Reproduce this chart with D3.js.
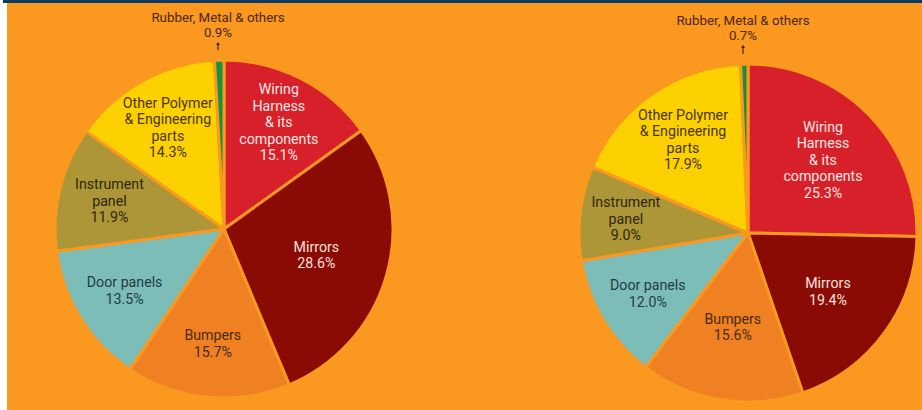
<!DOCTYPE html>
<html>
<head>
<meta charset="utf-8">
<script src="https://cdn.jsdelivr.net/npm/d3@7"></script>
<style>
  html, body { margin: 0; padding: 0; background: #ffffff; }
  svg { display: block; }
  text { font-family: Roboto, "Open Sans", sans-serif; }
</style>
</head>
<body>
<svg id="chart" width="922" height="410"></svg>
<script>
// ---------- data ----------
const categories = [
  "Wiring Harness & its components",
  "Mirrors",
  "Bumpers",
  "Door panels",
  "Instrument panel",
  "Other Polymer & Engineering parts",
  "Rubber, Metal & others"
];
const labelLines = [
  ["Wiring", "Harness", "& its", "components"],
  ["Mirrors"],
  ["Bumpers"],
  ["Door panels"],
  ["Instrument", "panel"],
  ["Other Polymer", "& Engineering", "parts"],
  ["Rubber, Metal & others"]
];
const valuesLeft  = [15.1, 28.6, 15.7, 13.5, 11.9, 14.3, 0.9];
const valuesRight = [25.3, 19.4, 15.6, 12.0, 9.0, 17.9, 0.7];

// ---------- styles / layout ----------
const sliceColors = ["#d7202a", "#8a0b04", "#ef8122", "#7dbdb8", "#ad9637", "#fdd100", "#16923e"];
const textColors  = ["#fbe6e2", "#f6e0dc", "#4a2a0c", "#1f3b48", "#2e2606", "#4a3606", "#4a2608"];
const bg = "#fb981f";

const pies = [
  { values: valuesLeft,  cx: 224, cy: 229, r: 169, labelR: [120, 96, 115, 117, 118, 116],
    topLabelX: 218, topLabelY: 17, arrowY: [42, 50] },
  { values: valuesRight, cx: 748, cy: 233, r: 169, labelR: [105, 99, 95, 117, 123, 114],
    topLabelX: 743, topLabelY: 20, arrowY: [45, 54] }
];

const svg = d3.select("#chart");

// background
svg.append("rect").attr("x", 0).attr("y", 0).attr("width", 922).attr("height", 410).attr("fill", "#ffffff");
svg.append("rect").attr("x", 7).attr("y", 0).attr("width", 915).attr("height", 410).attr("fill", bg);
svg.append("rect").attr("x", 3).attr("y", 0).attr("width", 919).attr("height", 3).attr("fill", "#0f3a5f");

const pieGen = d3.pie().sort(null).value(d => d);
const lineH = 16.5;

pies.forEach(p => {
  const arcs = pieGen(p.values);
  const arc = d3.arc().innerRadius(0).outerRadius(p.r);
  const g = svg.append("g").attr("transform", `translate(${p.cx},${p.cy})`);

  g.selectAll("path.slice")
    .data(arcs)
    .join("path")
    .attr("class", "slice")
    .attr("d", arc)
    .attr("fill", (d, i) => sliceColors[i])
    .attr("stroke", bg)
    .attr("stroke-width", 3)
    .attr("stroke-linejoin", "round");

  // inner labels (all slices except the tiny last one)
  arcs.slice(0, 6).forEach((d, i) => {
    const mid = (d.startAngle + d.endAngle) / 2;
    const lr = p.labelR[i];
    const x = Math.sin(mid) * lr;
    const y = -Math.cos(mid) * lr;
    const lines = labelLines[i].concat([d3.format(".1f")(p.values[i]) + "%"]);
    const t = g.append("text")
      .attr("text-anchor", "middle")
      .attr("fill", textColors[i])
      .attr("font-size", 14.2)
      .attr("font-weight", 400);
    lines.forEach((ln, k) => {
      t.append("tspan")
        .attr("x", x)
        .attr("y", y + (k - (lines.length - 1) / 2) * lineH)
        .attr("dy", "0.35em")
        .text(ln);
    });
  });

  // top outside label for the small slice
  const tl = svg.append("text")
    .attr("text-anchor", "middle")
    .attr("fill", textColors[6])
    .attr("font-size", 13.3)
    .attr("font-weight", 400);
  [labelLines[6][0], d3.format(".1f")(p.values[6]) + "%"].forEach((ln, k) => {
    tl.append("tspan")
      .attr("x", p.topLabelX)
      .attr("y", p.topLabelY + k * 15.6)
      .attr("dy", "0.35em")
      .text(ln);
  });
  // arrow
  svg.append("line")
    .attr("x1", p.topLabelX).attr("x2", p.topLabelX)
    .attr("y1", p.arrowY[0] + 2).attr("y2", p.arrowY[1])
    .attr("stroke", "#3a1f08").attr("stroke-width", 1.1);
  svg.append("path")
    .attr("d", d3.line()([[p.topLabelX - 2, p.arrowY[0] + 3], [p.topLabelX, p.arrowY[0]], [p.topLabelX + 2, p.arrowY[0] + 3]]))
    .attr("fill", "#3a1f08");
});
</script>
</body>
</html>
